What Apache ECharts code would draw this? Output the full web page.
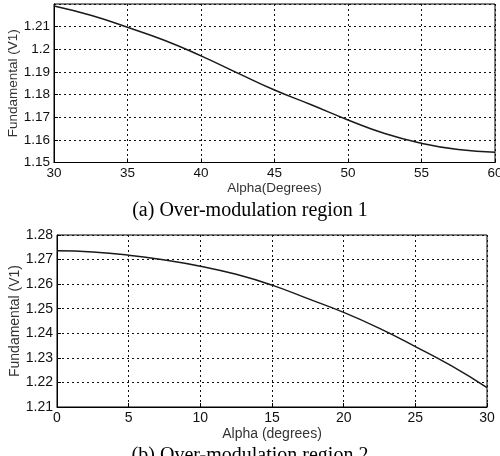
<!DOCTYPE HTML>
<html>
<head>
    <meta charset="UTF-8">
    <title>Fundamental vs Alpha</title>
    <style>
        body{ margin:0; background-color:#ffffff; }
        #main{ width:500px; height:456px; }
    </style>
    <script src="https://cdn.jsdelivr.net/npm/echarts@6/dist/echarts.min.js"></script>
</head>
<body>
<div id="main"></div>
<script type="text/javascript">
    // region 1 : alpha 30..60 deg
    var alpha1 = [30, 32.5, 35, 37.5, 40, 42.5, 45, 47.5, 50, 52.5, 55, 57.5, 60];
    var fund1  = [1.2191, 1.2150, 1.2097, 1.2040, 1.1971, 1.1895, 1.1820, 1.1755, 1.1688, 1.1628, 1.1585, 1.1557, 1.1545];
    // region 2 : alpha 0..30 deg
    var alpha2 = [0, 2.5, 5, 7.5, 10, 12.5, 15, 17.5, 20, 22.5, 25, 27.5, 30];
    var fund2  = [1.2736, 1.2731, 1.2718, 1.2698, 1.2673, 1.2640, 1.2596, 1.2541, 1.2485, 1.2420, 1.2346, 1.2268, 1.2179];

    var captionA = '(a) Over-modulation region 1';
    var captionB = '(b) Over-modulation region 2';

    function pairs(xs, ys){
        var out = [];
        for (var i = 0; i < xs.length; i++) out.push([xs[i], ys[i]]);
        return out;
    }

    var gridLine = { show:true, lineStyle:{ color:'#111', width:1, type:[2,3] } };
    var labelFont = 'Liberation Sans, Arial, sans-serif';

    var myChart = echarts.init(document.getElementById('main'));
    var option = {
        backgroundColor: '#ffffff',
        animation: false,
        grid: [
            { left:54, right:5, top:4, height:158.5, outerBoundsMode:'none', containLabel:false,
              show:true, borderColor:'#000', borderWidth:1 },
            { left:57, right:13, top:235, height:172, outerBoundsMode:'none', containLabel:false,
              show:true, borderColor:'#000', borderWidth:1 }
        ],
        xAxis: [
            {
                gridIndex:0, type:'value', min:30, max:60, interval:5,
                name:'Alpha(Degrees)', nameLocation:'middle', nameGap:19, nameMoveOverlap:false,
                nameTextStyle:{ fontFamily:labelFont, fontSize:13.5, color:'#333' },
                axisLine:{ lineStyle:{ color:'#000' } },
                axisTick:{ inside:true, length:4, lineStyle:{ color:'#000' } },
                axisLabel:{ fontFamily:labelFont, fontSize:13.5, color:'#111', margin:4 },
                splitLine: gridLine
            },
            {
                gridIndex:1, type:'value', min:0, max:30, interval:5,
                name:'Alpha (degrees)', nameLocation:'middle', nameGap:20, nameMoveOverlap:false,
                nameTextStyle:{ fontFamily:labelFont, fontSize:14, color:'#333' },
                axisLine:{ lineStyle:{ color:'#000' } },
                axisTick:{ inside:true, length:4, lineStyle:{ color:'#000' } },
                axisLabel:{ fontFamily:labelFont, fontSize:14, color:'#111', margin:4 },
                splitLine: gridLine
            }
        ],
        yAxis: [
            {
                gridIndex:0, type:'value', min:1.15, max:1.22, interval:0.01,
                name:'Fundamental (V1)', nameLocation:'middle', nameGap:34, nameMoveOverlap:false,
                nameTextStyle:{ fontFamily:labelFont, fontSize:13.5, color:'#333' },
                axisLine:{ show:true, lineStyle:{ color:'#000' } },
                axisTick:{ inside:true, length:4, lineStyle:{ color:'#000' } },
                axisLabel:{ fontFamily:labelFont, fontSize:13.5, color:'#111', margin:4, showMaxLabel:false },
                splitLine: gridLine
            },
            {
                gridIndex:1, type:'value', min:1.21, max:1.28, interval:0.01,
                name:'Fundamental (V1)', nameLocation:'middle', nameGap:35, nameMoveOverlap:false,
                nameTextStyle:{ fontFamily:labelFont, fontSize:14, color:'#333' },
                axisLine:{ show:true, lineStyle:{ color:'#000' } },
                axisTick:{ inside:true, length:4, lineStyle:{ color:'#000' } },
                axisLabel:{ fontFamily:labelFont, fontSize:14, color:'#111', margin:4 },
                splitLine: gridLine
            }
        ],
        graphic: [
            { type:'text', left:'center', top:201,
              style:{ text:captionA, font:'20px "Liberation Serif", serif', fill:'#000' } },
            { type:'text', left:'center', top:446,
              style:{ text:captionB, font:'20px "Liberation Serif", serif', fill:'#000' } }
        ],
        series: [
            {
                type:'line', xAxisIndex:0, yAxisIndex:0, smooth:true, showSymbol:false,
                lineStyle:{ color:'#1a1a1a', width:1.5 },
                data: pairs(alpha1, fund1)
            },
            {
                type:'line', xAxisIndex:1, yAxisIndex:1, smooth:true, showSymbol:false,
                lineStyle:{ color:'#1a1a1a', width:1.5 },
                data: pairs(alpha2, fund2)
            }
        ]
    };
    myChart.setOption(option);
</script>
</body>
</html>
